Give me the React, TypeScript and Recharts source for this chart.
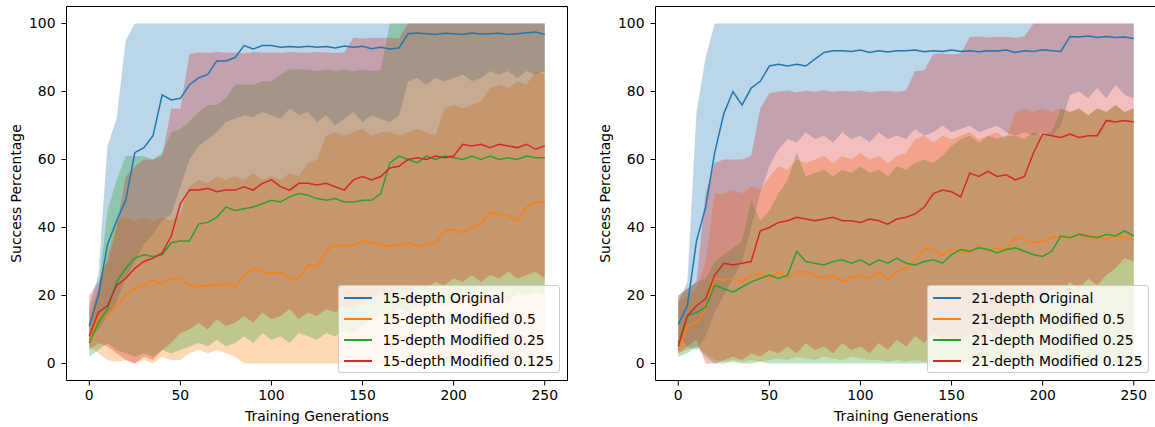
import React from 'react'
import { ComposedChart, Area, Line, XAxis, YAxis, ReferenceArea } from 'recharts'

// training generation of every sample
const gens = [
  0, 5, 10, 15, 20, 25, 30, 35, 40, 45, 50, 55, 60, 65, 70, 75, 80, 85, 90, 95, 100,
  105, 110, 115, 120, 125, 130, 135, 140, 145, 150, 155, 160, 165, 170, 175, 180, 185,
  190, 195, 200, 205, 210, 215, 220, 225, 230, 235, 240, 245, 250,
]

const xTicks = [0, 50, 100, 150, 200, 250]
const yTicks = [0, 20, 40, 60, 80, 100]

// ---- 15-depth: mean success and min / max over runs ----
const d15Original = [
  11, 20, 35, 42, 48, 62, 63.5, 67, 79, 77.5, 78, 82, 84, 85, 89, 89, 90, 93.5, 92.5, 93.5, 93.5,
  93, 93.2, 93, 93.3, 93, 93.2, 92.8, 93.4, 93, 93.3, 92.6, 93, 92.5, 92.8, 97, 97.2, 97, 96.8,
  97.1, 97, 96.8, 97.2, 96.9, 97, 97.1, 96.8, 97, 97.3, 97.5, 96.8,
]
const d15OriginalLo = [
  7, 10, 14, 18, 25, 30, 35, 38, 42, 44, 52, 60, 64, 66, 68, 71, 72, 73, 72.5, 74, 73,
  72, 75, 73, 74, 71, 73, 70, 72, 74, 71, 73, 72, 71, 73, 83, 84, 82, 84, 83, 84, 85, 83, 84,
  86, 85, 86, 84, 86, 85, 86,
]
const d15OriginalHi = [
  17, 26, 64, 72, 95, 100, 100, 100, 100, 100, 100, 100, 100, 100, 100, 100, 100, 100, 100, 100, 100,
  100, 100, 100, 100, 100, 100, 100, 100, 100, 100, 100, 100, 100, 100, 100, 100, 100, 100, 100,
  100, 100, 100, 100, 100, 100, 100, 100, 100, 100, 100,
]

const d15Half = [
  7, 14, 14, 17, 20, 22, 23, 24.5, 23.5, 25, 25, 23, 22.5, 23, 23, 23.5, 22.5, 26, 28, 27, 26.5,
  27, 25, 25, 29, 28.5, 33, 35, 34.5, 35, 36, 35.5, 35, 34.5, 35, 35.5, 34.5, 35, 35.5, 39,
  39.5, 38.5, 40, 41, 44.5, 44, 43.5, 42, 46, 47.5, 47.5,
]
const d15HalfLo = [
  5, 3, 1, 0.5, 1, 0, 1, 0, 2, 1, 1, 3, 4, 3, 4, 3, 2, 0, 0, 0, 0,
  0, 0, 0, 0, 0, 0, 0, 0, 0, 0, 0, 0, 0, 0, 0, 0, 0, 0, 0, 0, 0, 0, 0, 0, 0, 0, 0, 0, 0, 0,
]
const d15HalfHi = [
  16, 22, 32, 42, 43, 42, 43, 42, 43, 42, 44, 52, 54, 53, 55, 54, 55, 54, 56, 54, 55,
  54, 56, 55, 59, 60, 67, 68, 67, 68, 69, 67, 68, 68, 67, 68, 69, 68, 67, 75, 76, 75, 76, 77,
  81, 82, 81, 83, 82, 86, 85,
]

const d15Quarter = [
  6, 12, 16, 24, 28, 31, 32, 31.5, 32, 35.5, 36, 36, 41, 41.5, 43, 46, 45, 45.5, 46, 47, 48,
  47.5, 49, 50, 49.5, 48.5, 48, 48.5, 47.5, 47.5, 48, 48, 50, 59, 61, 60, 59, 61, 60, 61,
  60.5, 60, 61, 60, 61, 60, 60.5, 60, 61, 60.5, 60.5,
]
const d15QuarterLo = [
  2, 4, 6, 4, 3, 2, 3, 2, 4, 3, 4, 5, 6, 5, 7, 5, 6, 8, 6, 9, 7,
  8, 6, 9, 8, 7, 9, 8, 10, 9, 11, 13, 15, 14, 16, 15, 17, 16, 18, 17, 18, 19, 17, 20, 19,
  20, 18, 21, 20, 21, 20,
]
const d15QuarterHi = [
  12, 22, 45, 54, 61, 61, 61, 60, 62, 68, 69, 71, 74, 76, 76, 78, 82, 82, 82, 83, 83,
  85, 86.5, 86.5, 86.5, 86, 86.5, 86, 86.5, 86, 86.5, 86, 86.5, 100, 100, 100, 100, 100, 100,
  100, 100, 100, 100, 100, 100, 100, 100, 100, 100, 100, 100,
]

const d15Eighth = [
  8, 15, 17, 23, 25, 28, 30, 31, 32.5, 37.5, 47, 51, 51, 51.5, 50.5, 51, 51, 52, 51, 53, 54,
  52, 51, 53, 53, 52.5, 53, 52, 51, 54, 55, 54, 55, 57.5, 58, 60, 60.5, 60, 61, 60.5, 61,
  64.5, 64, 64.5, 63.5, 64.5, 64, 63.5, 64.5, 63, 64,
]
const d15EighthLo = [
  4, 6, 5, 3, 1, 0, 2, 1, 4, 6, 9, 10, 12, 10, 13, 11, 12, 14, 12, 15, 13,
  14, 16, 13, 15, 14, 16, 15, 17, 16, 18, 19, 21, 20, 22, 21, 23, 22, 24, 23, 25, 24, 26, 24,
  26, 25, 27, 25, 26, 27, 25,
]
const d15EighthHi = [
  20, 24, 30, 40, 55, 58, 60, 60, 61, 75, 75, 91, 91.5, 91.3, 91.6, 91.4, 91.5, 91.2, 91.6, 91.4, 91.5,
  91.3, 91.6, 91.5, 91.4, 91.6, 91.5, 91.3, 91.5, 95.8, 95.6, 95.8, 95.7, 95.8, 95.6, 100, 100,
  100, 100, 100, 100, 100, 100, 100, 100, 100, 100, 100, 100, 100, 100,
]

// ---- 21-depth: mean success and min / max over runs ----
const d21Original = [
  11.5, 17, 36, 46, 62, 73.5, 80, 76, 81, 83, 87.5, 88, 87.5, 88, 87.5, 89.5, 91.5, 92, 92, 91.8, 92.2,
  91.5, 92, 91.6, 92, 92, 92.2, 91.7, 92, 91.8, 92.2, 91.8, 92, 91.7, 92, 91.9, 92.2, 91.5, 92,
  91.8, 92.3, 92, 91.8, 96.2, 96, 96.3, 95.9, 96.2, 95.9, 96, 95.6,
]
const d21OriginalLo = [
  8, 5, 4, 8, 15, 20, 25, 30, 40, 50, 58, 63, 66, 65, 68, 66, 67, 65, 68, 66, 67,
  65, 68, 66, 67, 66, 69, 67, 68, 70, 68, 69, 70, 68, 69, 70, 68, 67, 68, 67, 68, 67, 70, 79,
  80, 78, 81, 78, 82, 79, 78,
]
const d21OriginalHi = [
  18, 24, 74, 90, 100, 100, 100, 100, 100, 100, 100, 100, 100, 100, 100, 100, 100, 100, 100, 100, 100,
  100, 100, 100, 100, 100, 100, 100, 100, 100, 100, 100, 100, 100, 100, 100, 100, 100, 100, 100,
  100, 100, 100, 100, 100, 100, 100, 100, 100, 100, 100,
]

const d21Half = [
  4, 11, 12, 16, 25, 24.5, 25, 24, 26, 26.5, 25, 27, 25, 27, 27, 26, 25, 26, 24, 25.5, 26,
  25, 27, 24.5, 27, 28, 30, 34, 33.5, 32, 33.5, 33, 32.5, 34.5, 33, 34, 33.5, 37, 36.5, 35.5,
  36, 37, 37.5, 37, 38, 37, 37.5, 36.5, 37.5, 37, 36.5,
]
const d21HalfLo = [
  3, 4, 5, 3, 1, 0.5, 1, 0.5, 1, 0.5, 1, 1.5, 1, 2, 1.5, 1, 2, 1.5, 1, 2, 1.5,
  1, 1, 0.5, 1, 0.5, 1, 0.5, 0.5, 1, 0.5, 0, 0.5, 0, 0.5, 0, 0.5, 0, 0.5, 0, 0, 0.5, 0, 0,
  0.5, 0, 0, 0.5, 0, 0, 0,
]
const d21HalfHi = [
  18, 20, 22, 30, 50, 50, 51, 50, 52, 51, 55, 58, 57, 60, 59, 60, 61, 59, 61, 60, 62,
  60, 61, 59, 61, 62, 66, 67, 65, 67, 66, 67, 68, 66, 67, 68, 66, 74, 75, 74, 75, 74, 75, 74,
  75, 73, 75, 74, 76, 74, 75,
]

const d21Quarter = [
  6, 14, 15, 16.5, 23, 22, 21, 22.5, 24, 25, 26, 25, 26, 33, 30, 29.5, 29, 30, 30.5, 29.5, 30.5,
  29, 30.5, 29.5, 31, 29.5, 29, 30, 30.5, 29.5, 32, 33.5, 33, 34, 33.5, 32.5, 33.5, 34, 33, 32,
  31.5, 33, 37.5, 37, 38, 37.5, 37, 38, 37.5, 39, 37.5,
]
const d21QuarterLo = [
  2, 3, 5, 2, 0, 0, 0.5, 0, 0, 0.5, 0, 0, 0, 0, 0, 0, 0, 0, 0, 0, 0,
  0, 0, 0, 0, 0, 0, 0, 0, 0, 0, 0, 0, 0, 0, 0, 0, 0, 0, 0, 0, 0, 0, 0, 0, 0, 0, 0, 0, 0, 0,
]
const d21QuarterHi = [
  20, 22, 24, 25, 30, 32, 34, 36, 48, 42, 45, 50, 54, 62, 55, 56, 57, 55, 57, 56, 58,
  56, 57, 55, 58, 57, 59, 60, 59, 61, 64, 66, 67, 65, 67, 66, 67, 67, 66, 68, 67, 68, 75, 74,
  75, 73, 75, 74, 76, 74, 75,
]

const d21Eighth = [
  5, 14, 17, 19, 26, 29.5, 29, 29.5, 30, 39, 40, 41.5, 42, 43, 42.5, 42, 42.5, 43, 42, 42, 41.5,
  42.5, 42, 41, 42.5, 43, 44, 46, 50, 51, 50.5, 49, 56, 55, 56.5, 55, 55.5, 54, 55, 62, 67.5,
  67, 66.5, 67.5, 66.5, 67, 67, 71.5, 71, 71.5, 71,
]
const d21EighthLo = [
  3, 5, 7, 0, 0, 1, 2, 1, 3, 2, 4, 3, 5, 3, 6, 4, 5, 3, 6, 4, 5,
  3, 6, 4, 7, 5, 8, 6, 9, 7, 8, 6, 9, 7, 10, 8, 11, 9, 12, 18, 20, 22, 21, 24, 22, 25, 23,
  26, 28, 31, 30,
]
const d21EighthHi = [
  20, 22, 24, 50, 59, 60, 60, 60, 61, 75, 79.5, 80, 80.3, 79.8, 80.2, 80, 80.4, 79.9, 80.2, 80, 80.3,
  79.8, 80.1, 80.2, 79.9, 80.3, 86, 86.2, 91, 91.2, 90.9, 91.1, 96, 96.2, 95.9, 96.1, 96, 95.8,
  96.2, 100, 100, 100, 100, 100, 100, 100, 100, 100, 100, 100, 100,
]

interface SeriesDef {
  key: string
  label: string
  color: string
  mean: number[]
  lo: number[]
  hi: number[]
}

const FONT = '"DejaVu Sans", sans-serif'
const FONT_SIZE = 13.9

const makeSeries = (depth: number, mean: number[][], lo: number[][], hi: number[][]): SeriesDef[] => [
  { key: 'original', label: `${depth}-depth Original`, color: '#1f77b4', mean: mean[0], lo: lo[0], hi: hi[0] },
  { key: 'half', label: `${depth}-depth Modified 0.5`, color: '#ff7f0e', mean: mean[1], lo: lo[1], hi: hi[1] },
  { key: 'quarter', label: `${depth}-depth Modified 0.25`, color: '#2ca02c', mean: mean[2], lo: lo[2], hi: hi[2] },
  { key: 'eighth', label: `${depth}-depth Modified 0.125`, color: '#d62728', mean: mean[3], lo: lo[3], hi: hi[3] },
]

const series15 = makeSeries(
  15,
  [d15Original, d15Half, d15Quarter, d15Eighth],
  [d15OriginalLo, d15HalfLo, d15QuarterLo, d15EighthLo],
  [d15OriginalHi, d15HalfHi, d15QuarterHi, d15EighthHi],
)
const series21 = makeSeries(
  21,
  [d21Original, d21Half, d21Quarter, d21Eighth],
  [d21OriginalLo, d21HalfLo, d21QuarterLo, d21EighthLo],
  [d21OriginalHi, d21HalfHi, d21QuarterHi, d21EighthHi],
)

const buildRows = (series: SeriesDef[]) =>
  gens.map((gen, i) => {
    const row: Record<string, number | number[]> = { gen }
    series.forEach(s => {
      row[s.key] = s.mean[i]
      row[`${s.key}Band`] = [s.lo[i], s.hi[i]]
    })
    return row
  })

const tickStyle = { fill: '#000', fontSize: FONT_SIZE, fontFamily: FONT }

const XTitle = () => (
  <text x={317} y={420.5} textAnchor="middle" fill="#000" fontSize={FONT_SIZE} fontFamily={FONT}>
    Training Generations
  </text>
)

const YTitle = () => (
  <text x={21} y={193.5} transform="rotate(-90 21 193.5)" textAnchor="middle" fill="#000"
    fontSize={FONT_SIZE} fontFamily={FONT}>
    Success Percentage
  </text>
)

// matplotlib-style legend box in the lower right of each panel
const LegendBox: React.FC<{ series: SeriesDef[] }> = ({ series }) => (
  <div
    style={{
      position: 'absolute', left: 337.5, top: 285, width: 222, height: 88,
      boxSizing: 'border-box', border: '1px solid #cccccc', borderRadius: 3,
      background: 'rgba(255,255,255,0.8)', paddingTop: 1,
      fontFamily: FONT, fontSize: FONT_SIZE, color: '#000',
    }}
  >
    {series.map(s => (
      <div key={s.key} style={{ height: 21, display: 'flex', alignItems: 'center', whiteSpace: 'nowrap' }}>
        <span style={{ marginLeft: 5, width: 28, height: 2, background: s.color, display: 'inline-block' }} />
        <span style={{ marginLeft: 11 }}>{s.label}</span>
      </div>
    ))}
  </div>
)

const Panel: React.FC<{ series: SeriesDef[]; left: number }> = ({ series, left }) => {
  const data = buildRows(series)
  return (
    <div style={{ position: 'absolute', left, top: 0, width: 580, height: 427 }}>
      <ComposedChart
        width={580}
        height={427}
        data={data}
        margin={{ top: 6.5, right: 12.5, bottom: 16.5, left: 6.5 }}
      >
        <XAxis
          dataKey="gen"
          type="number"
          domain={[-12.5, 262.5]}
          ticks={xTicks}
          height={30}
          tickSize={5}
          tickMargin={5}
          axisLine={false}
          tickLine={{ stroke: '#000' }}
          tick={tickStyle}
          label={{ content: () => <XTitle /> }}
        />
        <YAxis
          type="number"
          domain={[-5, 105]}
          ticks={yTicks}
          width={60}
          tickSize={5}
          tickMargin={6}
          axisLine={false}
          tickLine={{ stroke: '#000' }}
          tick={tickStyle}
          label={{ content: () => <YTitle /> }}
        />
        {/* min-max bands first, mean lines on top */}
        {series.map(s => (
          <Area
            key={`${s.key}-band`}
            dataKey={`${s.key}Band`}
            type="linear"
            stroke="none"
            fill={s.color}
            fillOpacity={0.3}
            dot={false}
            activeDot={false}
            isAnimationActive={false}
          />
        ))}
        {series.map(s => (
          <Line
            key={s.key}
            dataKey={s.key}
            type="linear"
            stroke={s.color}
            strokeWidth={1.5}
            dot={false}
            activeDot={false}
            isAnimationActive={false}
          />
        ))}
        <ReferenceArea
          x1={-12.5}
          x2={262.5}
          y1={-5}
          y2={105}
          fill="none"
          stroke="#000"
          strokeWidth={1}
          ifOverflow="visible"
        />
      </ComposedChart>
      <LegendBox series={series} />
    </div>
  )
}

export default function App() {
  return (
    <div
      style={{
        position: 'absolute', left: 0, top: 0, width: 1155, height: 427,
        overflow: 'hidden', background: '#fff',
      }}
    >
      <Panel series={series15} left={0} />
      <Panel series={series21} left={589} />
    </div>
  )
}
